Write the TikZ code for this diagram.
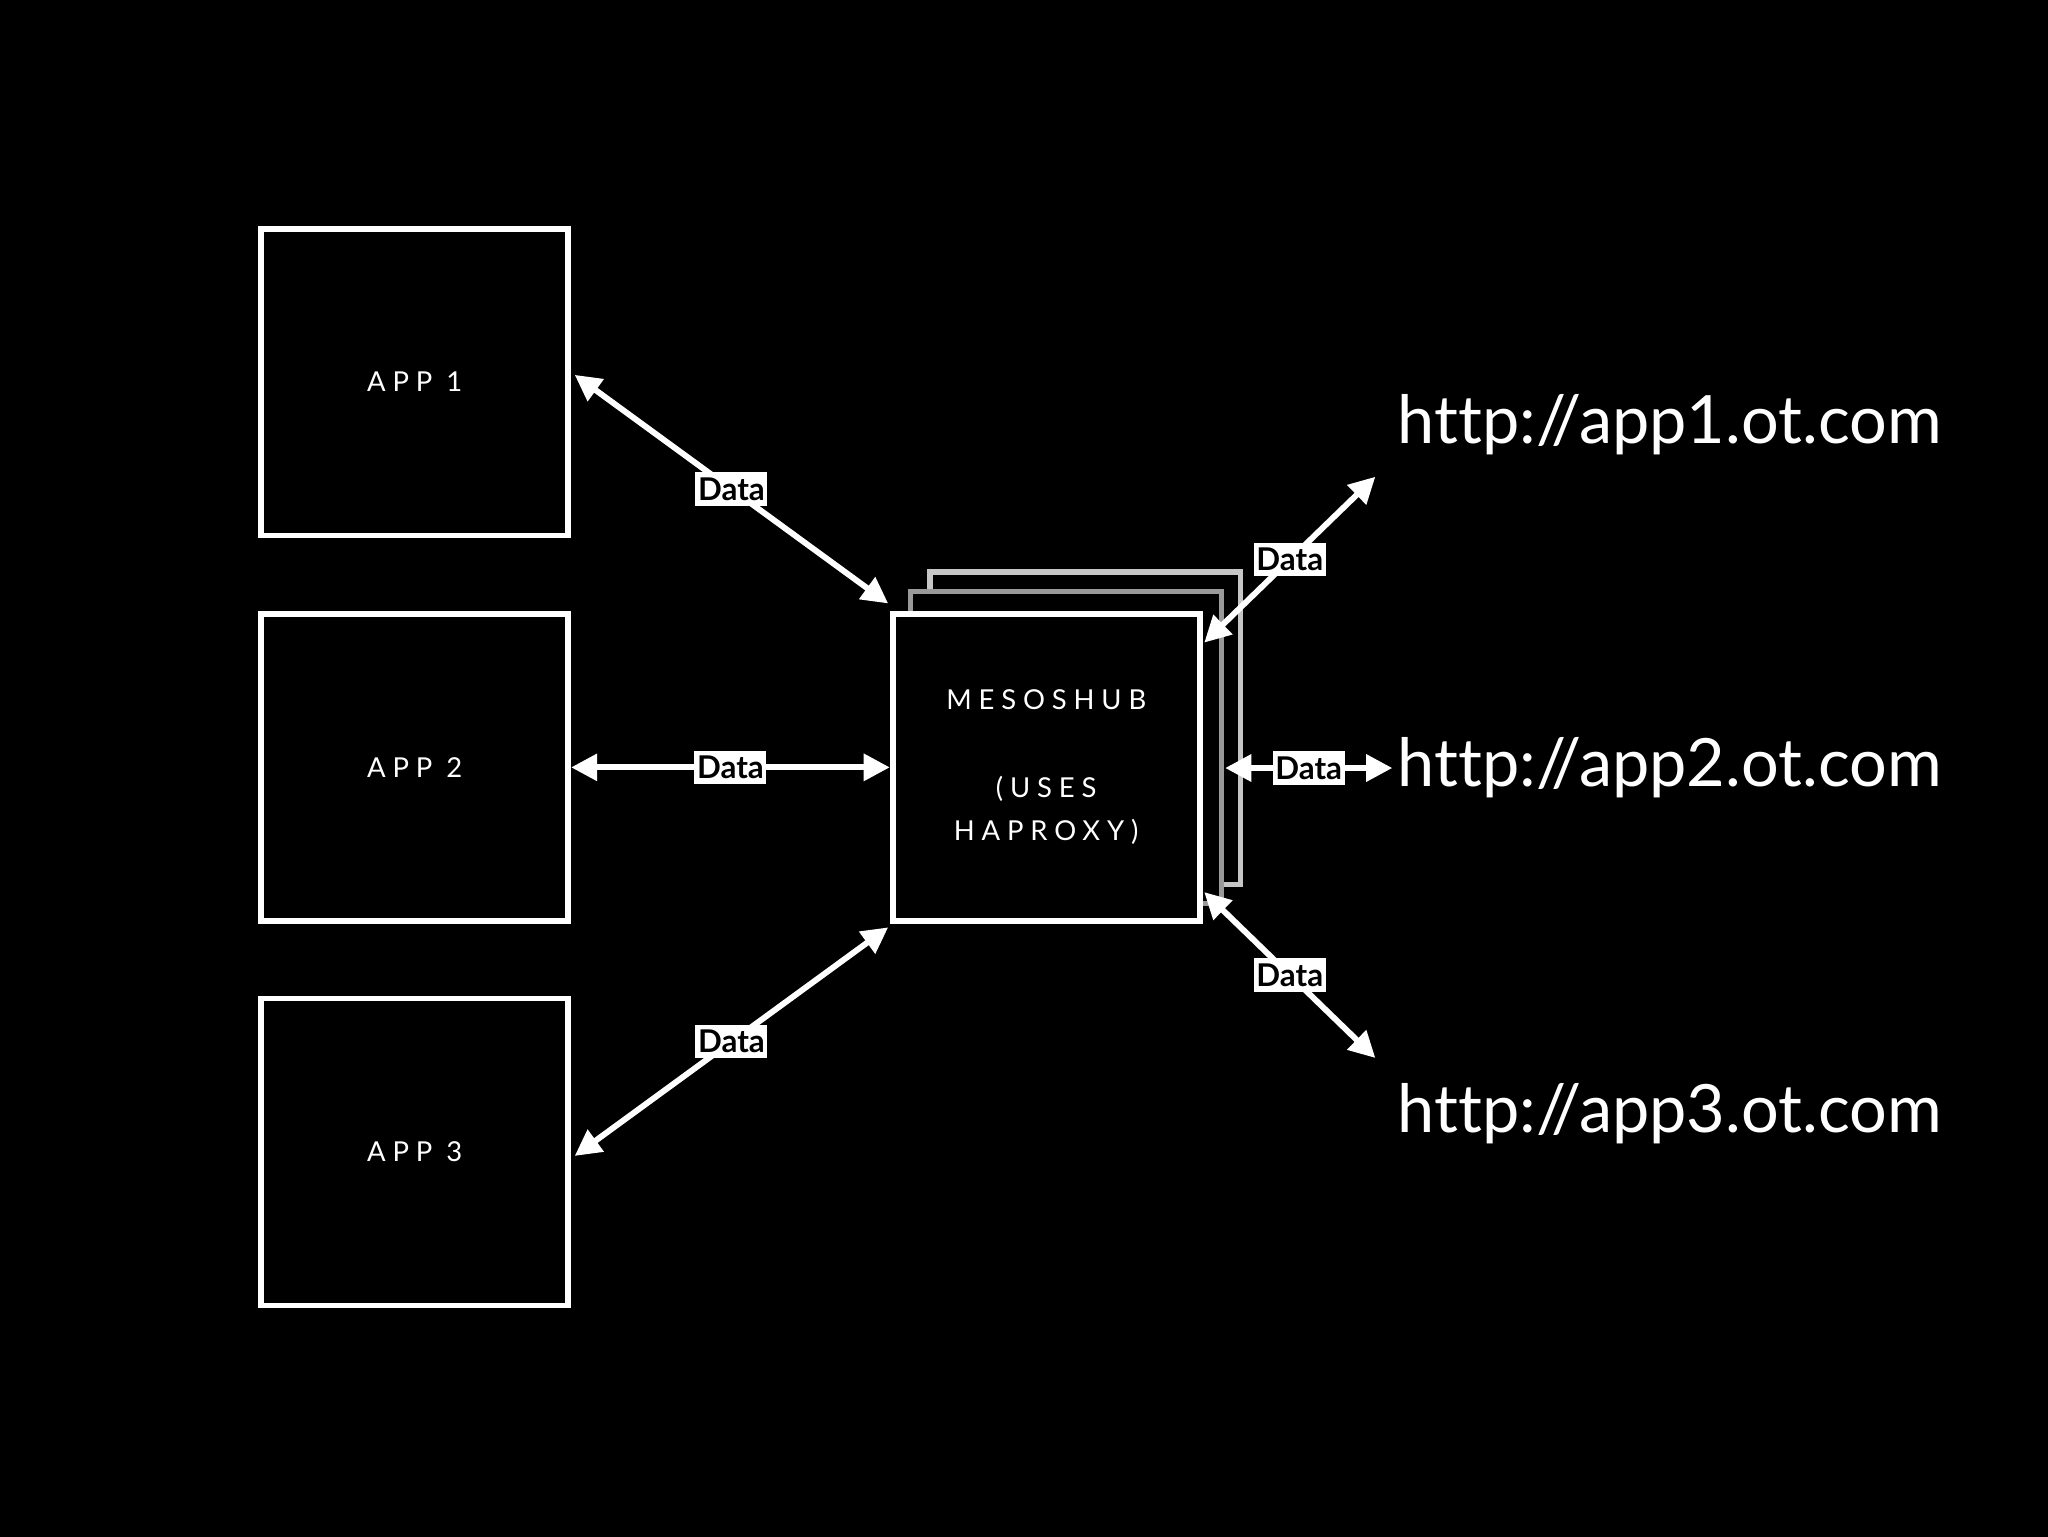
\documentclass[tikz,border=0pt]{standalone}
\usepackage{fontspec}
\setmainfont{Lato}[Ligatures={NoCommon,NoRare}]
\usetikzlibrary{arrows.meta}
\begin{document}
\begin{tikzpicture}[x=1pt,y=-1pt,
  box/.style={draw=white,line width=4.5pt,minimum width=235pt,minimum height=235pt,inner sep=0pt,text=white,align=center,font=\fontsize{21}{33}\selectfont\addfontfeature{LetterSpace=25}},
  conn/.style={white,line width=4.5pt,{Triangle[width=20pt,length=20pt]}-{Triangle[width=20pt,length=20pt]}},
  lbl/.style={fill=white,text=black,inner xsep=2pt,inner ysep=4pt,font=\fontsize{24}{24}\selectfont\bfseries},
  url/.style={text=white,anchor=west,inner sep=0pt,font=\fontsize{51}{51}\selectfont\addfontfeature{Ligatures={NoCommon,NoRare}}}]
\useasboundingbox (0,0) rectangle (1568,1176);
\fill[black] (-5,-5) rectangle (1575,1185);
\draw[gray!45,line width=4pt] (712,438) rectangle (950,677);
\draw[gray!80,line width=4pt,fill=black] (697,453) rectangle (935,692);
\node[box] (a1) at (317.5,292.5) {APP 1};
\node[box] (a2) at (317.5,587.5) {APP 2};
\node[box] (a3) at (317.5,882) {APP 3};
\node[box,fill=black] (m) at (801,587.5) {MESOSHUB\\[34pt](USES\\HAPROXY)};
\node[url] (u1) at (1070,325) {http://app1.ot.com};
\node[url] (u2) at (1070,588) {http://app2.ot.com};
\node[url] (u3) at (1070,853) {http://app3.ot.com};
\coordinate (p1) at (440,287); \coordinate (q1) at (680,462);
\coordinate (p3) at (440,885); \coordinate (q3) at (680,710);
\coordinate (r1) at (922,492); \coordinate (s1) at (1053,365);
\coordinate (r2) at (938,588); \coordinate (s2) at (1066,588);
\coordinate (r3) at (922,683); \coordinate (s3) at (1053,810);
\draw[conn] (p1) -- node[lbl]{Data} (q1);
\draw[conn] (a2.east) -- node[lbl]{Data} (m.west);
\draw[conn] (p3) -- node[lbl]{Data} (q3);
\draw[conn] (r1) -- node[lbl]{Data} (s1);
\draw[conn] (r2) -- node[lbl]{Data} (s2);
\draw[conn] (r3) -- node[lbl]{Data} (s3);
\end{tikzpicture}
\end{document}
